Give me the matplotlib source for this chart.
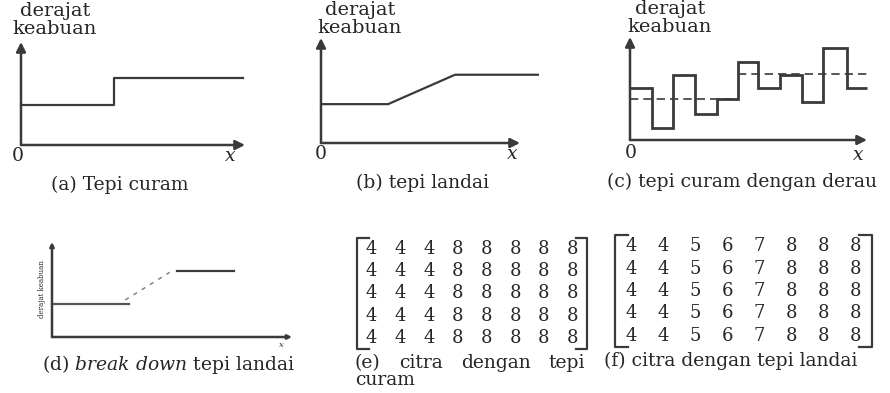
import matplotlib
matplotlib.use("Agg")
import matplotlib.pyplot as plt

# ---- data ----
# (a) steep edge: step from low to high grey level
A_X = [0, 4.15, 4.15, 9.9]
A_Y = [3.9, 3.9, 6.5, 6.5]
# (b) ramp edge
B_X = [0, 3.37, 6.73, 10.9]
B_Y = [3.7, 3.7, 6.5, 6.5]
# (c) steep edge with noise: segment edges and levels
C_EDGES = [0, 0.93, 1.81, 2.74, 3.67, 4.56, 5.4, 6.33, 7.26, 8.14, 9.16, 10.0]
C_LEVELS = [5.05, 1.17, 6.3, 2.5, 4.0, 7.6, 5.05, 6.3, 3.7, 8.9, 5.05]
C_MEAN_X = [0, 4.56, 4.56, 10.0]
C_MEAN_Y = [4.0, 4.0, 6.4, 6.4]
# (d) break down of ramp edge
D_LOW_X, D_LOW_Y = [0, 3.2], [3.5, 3.5]
D_RAMP_X, D_RAMP_Y = [3.05, 4.9], [3.9, 6.8]
D_HIGH_X, D_HIGH_Y = [5.2, 7.6], [7.0, 7.0]
# (e) and (f) image matrices
E_MAT = [[4, 4, 4, 8, 8, 8, 8, 8]] * 5
F_MAT = [[4, 4, 5, 6, 7, 8, 8, 8]] * 5

W, H = 890, 393
INK = "#262626"
LINE = "#3a3a3a"
FONT = "DejaVu Serif"
plt.rcParams["mathtext.fontset"] = "dejavuserif"

fig = plt.figure(figsize=(W / 100, H / 100), dpi=100)
fig.patch.set_facecolor("white")


def box(x0, ytop, x1, ybot):
  ax = fig.add_axes([x0 / W, 1 - ybot / H, (x1 - x0) / W, (ybot - ytop) / H])
  ax.set_axis_off()
  return ax


def ftext(x, y, s, size=13.5, **kw):
  kw.setdefault("ha", "center")
  kw.setdefault("va", "center")
  fig.text(x / W, 1 - y / H, s, fontsize=size, family=FONT, color=INK, **kw)


def arrows(ax, xend=10, yend=10, lw=1.8, ms=14):
  ax.set_xlim(0, 10)
  ax.set_ylim(0, 10)
  ap = dict(arrowstyle="-|>", color=LINE, lw=lw, mutation_scale=ms, shrinkA=0, shrinkB=0)
  ax.annotate("", xy=(xend, 0), xytext=(0, 0), arrowprops=ap, annotation_clip=False)
  ax.annotate("", xy=(0, yend), xytext=(0, 0), arrowprops=ap, annotation_clip=False)


# (a)
ax = box(21, 42, 245, 145)
arrows(ax)
ax.plot(A_X, A_Y, color=LINE, lw=1.6, clip_on=False)
ftext(55, 20, "derajat\nkeabuan", size=14, linespacing=1.0)
ftext(18, 156, "0")
ftext(230, 156, "x", style="italic")
ftext(120, 185, "(a) Tepi curam")

# (b)
ax = box(321, 38, 520, 143)
arrows(ax)
ax.plot(B_X, B_Y, color=LINE, lw=1.6, clip_on=False)
ftext(360, 19, "derajat\nkeabuan", size=14, linespacing=1.0)
ftext(321, 154, "0")
ftext(512, 154, "x", style="italic")
ftext(422, 183, "(b) tepi landai")

# (c)
ax = box(630, 37, 867, 140)
arrows(ax)
ax.stairs(C_LEVELS, C_EDGES, color=LINE, lw=2.0, baseline=None, clip_on=False)
ax.plot(C_MEAN_X[:2], C_MEAN_Y[:2], color=LINE, lw=1.2, ls=(0, (5, 3)))
ax.plot(C_MEAN_X[2:], C_MEAN_Y[2:], color=LINE, lw=1.2, ls=(0, (5, 3)))
ftext(670, 18, "derajat\nkeabuan", size=14, linespacing=1.0)
ftext(631, 153, "0")
ftext(858, 155, "x", style="italic")
ftext(742, 182, "(c) tepi curam dengan derau")

# (d)
ax = box(52, 242, 292, 337)
arrows(ax, ms=6)
ax.plot(D_LOW_X, D_LOW_Y, color="#555555", lw=1.6)
ax.plot(D_RAMP_X, D_RAMP_Y, color="#777777", lw=1.0, ls=(0, (3, 4)))
ax.plot(D_HIGH_X, D_HIGH_Y, color=LINE, lw=1.6)
ftext(42, 289, "derajat keabuan", size=5, rotation=90)
ftext(281, 345, "x", size=6, style="italic")
ftext(169, 365, "(d) $\\it{break\\ down}$ tepi landai")


def matrix(ax, mat, size=13):
  nr, nc = len(mat), len(mat[0])
  ax.set_xlim(-0.5, nc - 0.5)
  ax.set_ylim(nr - 0.5, -0.5)
  for r, row in enumerate(mat):
    for c, v in enumerate(row):
      ax.text(c, r, str(v), ha="center", va="center", fontsize=size, family=FONT, color=INK)
  t = 0.05
  for side in (0, 1):
    tip = side + (t if side == 0 else -t)
    ax.plot([tip, side, side, tip], [0, 0, 1, 1], transform=ax.transAxes, color=LINE, lw=1.6, clip_on=False)


# (e)
ax = box(357, 238, 587, 349)
matrix(ax, E_MAT)
ftext(355, 363, "(e)", ha="left")
ftext(421, 363, "citra")
ftext(496, 363, "dengan")
ftext(585, 363, "tepi", ha="right")
ftext(355, 380, "curam", ha="left")

# (f)
ax = box(615, 235, 872, 347)
matrix(ax, F_MAT)
ftext(731, 361, "(f) citra dengan tepi landai")

fig.savefig("out.png", dpi=100, facecolor="white")
